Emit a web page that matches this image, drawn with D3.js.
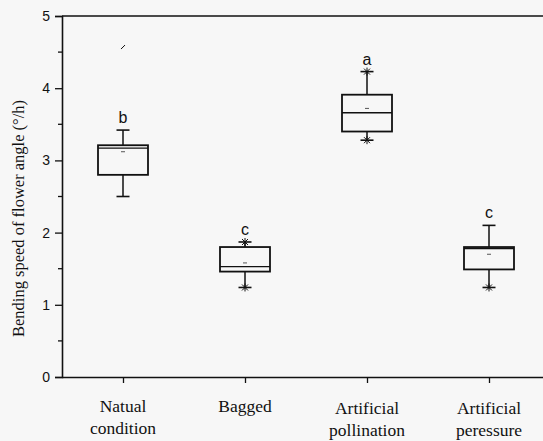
<!DOCTYPE html>
<html>
<head>
<meta charset="utf-8">
<script src="https://cdn.jsdelivr.net/npm/d3@7"></script>
<style>
  body { margin: 0; background: #f7f7f7; }
  svg { display: block; }
</style>
</head>
<body>
<div id="container"></div>
<script>
const categories = ["Natual condition", "Bagged", "Artificial pollination", "Artificial peressure"]
const labelLines = [["Natual", "condition"], ["Bagged"], ["Artificial", "pollination"], ["Artificial", "peressure"]]
const whiskerLow = [2.50, 1.24, 3.28, 1.24]
const q1 = [2.80, 1.46, 3.40, 1.49]
const median = [3.17, 1.53, 3.66, 1.78]
const q3 = [3.21, 1.80, 3.91, 1.80]
const whiskerHigh = [3.42, 1.87, 4.23, 2.10]
const means = [3.12, 1.58, 3.72, 1.70]
const letters = ["b", "c", "a", "c"]
// min / max markers (null = none drawn)
const minMarks = [null, 1.24, 3.28, 1.24]
const maxMarks = [null, 1.87, 4.23, null]
const outliers = [{ cat: "Natual condition", value: 4.57 }]
const yTicks = [0, 1, 2, 3, 4, 5]
const yMinorTicks = [0.5, 1.5, 2.5, 3.5, 4.5]

const width = 543
const height = 441
const plotLeft = 62
const plotTop = 16
const plotBottom = 377

const svg = d3.select('#container').append('svg')
  .attr('width', width)
  .attr('height', height)
  .style('background', '#f7f7f7')

const x = d3.scalePoint()
  .domain(categories)
  .range([plotLeft, 550])
  .padding(0.5)

const y = d3.scaleLinear()
  .domain([0, 5])
  .range([plotBottom, plotTop])

const ink = '#111'

// axes
const yAxis = svg.append('g')
  .attr('transform', `translate(${plotLeft},0)`)
  .call(d3.axisLeft(y).tickValues(yTicks).tickSize(7).tickPadding(5).tickFormat(d3.format('d')))
yAxis.append('g').selectAll('line')
  .data(yMinorTicks)
  .enter()
  .append('line')
  .attr('x1', -4).attr('x2', 0)
  .attr('y1', d => y(d)).attr('y2', d => y(d))
  .attr('stroke', ink).attr('stroke-width', 1.3)

const xAxis = svg.append('g')
  .attr('transform', `translate(0,${plotBottom})`)
  .call(d3.axisBottom(x).tickSize(6).tickFormat(''))

svg.selectAll('.domain').attr('stroke', ink).attr('stroke-width', 1.6)
svg.selectAll('.tick line').attr('stroke', ink).attr('stroke-width', 1.3)
yAxis.selectAll('.tick text')
  .attr('font-family', 'Liberation Sans, Arial, sans-serif')
  .attr('font-size', 14)
  .attr('fill', ink)
xAxis.select('.domain').attr('d', `M${plotLeft},0.5H${width}`)

// top frame line
svg.append('line')
  .attr('x1', plotLeft).attr('x2', width)
  .attr('y1', y(5)).attr('y2', y(5))
  .attr('stroke', ink).attr('stroke-width', 1.6)

// x labels
const xl = svg.append('g')
xl.selectAll('text')
  .data(categories)
  .enter()
  .append('text')
  .attr('x', d => x(d))
  .attr('y', (d, i) => i >= 2 ? 414 : 412)
  .attr('text-anchor', 'middle')
  .attr('font-family', 'Liberation Serif, Times New Roman, serif')
  .attr('font-size', 17.5)
  .attr('fill', ink)
  .each(function (d, i) {
    d3.select(this).selectAll('tspan')
      .data(labelLines[i])
      .enter()
      .append('tspan')
      .attr('x', x(d))
      .attr('dy', (t, j) => j === 0 ? 0 : 22)
      .text(t => t)
  })

// y title
svg.append('text')
  .attr('transform', `translate(24,${(plotTop + plotBottom) / 2 + 22}) rotate(-90)`)
  .attr('text-anchor', 'middle')
  .attr('font-family', 'Liberation Serif, Times New Roman, serif')
  .attr('font-size', 16.5)
  .attr('fill', ink)
  .text('Bending speed of flower angle (°/h)')

// boxes
const boxW = 50
const capW = 13
const g = svg.append('g')

categories.forEach((c, i) => {
  const cx = x(c)
  // whisker
  g.append('line')
    .attr('x1', cx).attr('x2', cx)
    .attr('y1', y(whiskerHigh[i])).attr('y2', y(q3[i]))
    .attr('stroke', ink).attr('stroke-width', 1.5)
  g.append('line')
    .attr('x1', cx).attr('x2', cx)
    .attr('y1', y(q1[i])).attr('y2', y(whiskerLow[i]))
    .attr('stroke', ink).attr('stroke-width', 1.5)
  // caps
  ;[whiskerHigh[i], whiskerLow[i]].forEach(v => {
    g.append('line')
      .attr('x1', cx - capW / 2).attr('x2', cx + capW / 2)
      .attr('y1', y(v)).attr('y2', y(v))
      .attr('stroke', ink).attr('stroke-width', 1.6)
  })
  // box
  g.append('rect')
    .attr('x', cx - boxW / 2)
    .attr('y', y(q3[i]))
    .attr('width', boxW)
    .attr('height', y(q1[i]) - y(q3[i]))
    .attr('fill', 'none')
    .attr('stroke', ink).attr('stroke-width', 1.8)
  // median
  g.append('line')
    .attr('x1', cx - boxW / 2).attr('x2', cx + boxW / 2)
    .attr('y1', y(median[i])).attr('y2', y(median[i]))
    .attr('stroke', ink).attr('stroke-width', 1.3)
  // mean marker
  g.append('line')
    .attr('x1', cx - 2).attr('x2', cx + 2)
    .attr('y1', y(means[i])).attr('y2', y(means[i]))
    .attr('stroke', '#555').attr('stroke-width', 1)
  // min / max star markers
  ;[minMarks[i], maxMarks[i]].forEach(v => {
    if (v === null) return
    const yy = y(v)
    g.append('path')
      .attr('d', `M${cx - 3},${yy - 3}L${cx + 3},${yy + 3}M${cx - 3},${yy + 3}L${cx + 3},${yy - 3}M${cx},${yy - 4}V${yy + 4}`)
      .attr('stroke', ink).attr('stroke-width', 1)
      .attr('fill', 'none')
  })
  // significance letter
  g.append('text')
    .attr('x', cx)
    .attr('y', y(whiskerHigh[i]) - 7)
    .attr('text-anchor', 'middle')
    .attr('font-family', 'Liberation Sans, Arial, sans-serif')
    .attr('font-size', 16)
    .attr('fill', ink)
    .text(letters[i])
})

// outliers
g.selectAll('.outlier')
  .data(outliers)
  .enter()
  .append('line')
  .attr('class', 'outlier')
  .attr('x1', d => x(d.cat) - 2).attr('x2', d => x(d.cat) + 2)
  .attr('y1', d => y(d.value) + 2).attr('y2', d => y(d.value) - 2)
  .attr('stroke', ink).attr('stroke-width', 1)
</script>
</body>
</html>
